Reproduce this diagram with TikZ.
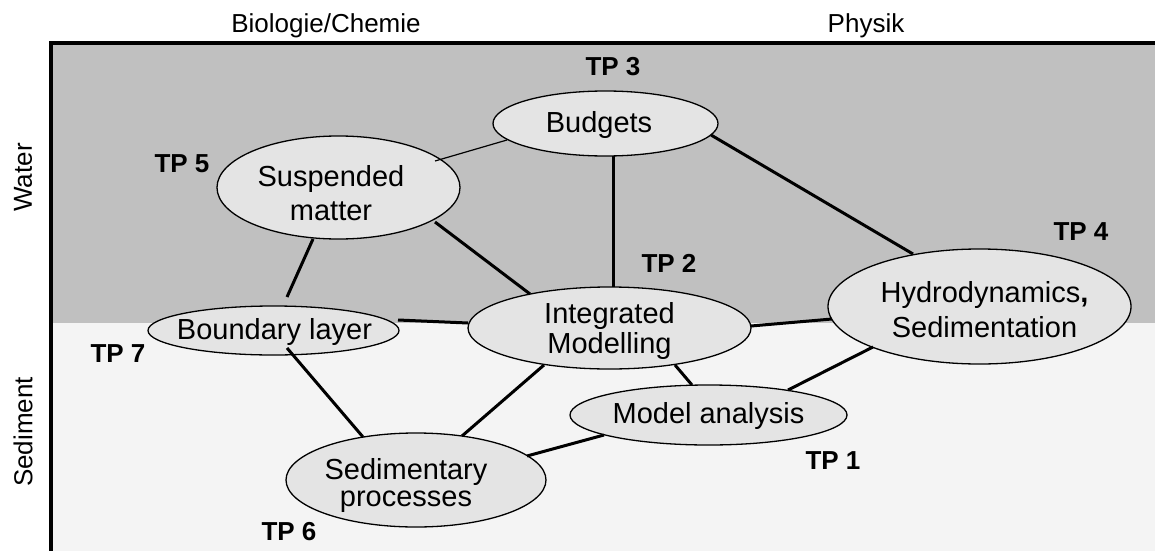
\documentclass[tikz,border=0pt]{standalone}
\usepackage{fontspec}
\setmainfont{Liberation Sans}
\usetikzlibrary{shapes.geometric,calc}
\definecolor{waterfill}{RGB}{192,192,192}
\definecolor{sedimentfill}{RGB}{244,244,244}
\definecolor{bubblefill}{RGB}{228,228,228}
\tikzset{
  bubble/.style={ellipse, draw=black, line width=1.3pt, fill=bubblefill, inner sep=0pt, outer sep=0pt},
  bubbletext/.style={align=center, inner sep=0pt, font=\fontsize{29}{31}\selectfont},
  tp/.style={font=\fontsize{26}{28}\selectfont\bfseries, inner sep=0pt},
  side/.style={font=\fontsize{26}{28}\selectfont, inner sep=0pt},
  link/.style={line width=3pt},
  thinlink/.style={line width=1.2pt},
}
\begin{document}
\begin{tikzpicture}[x=1pt,y=-1pt]
\useasboundingbox (0,0) rectangle (1155,551);
% water and sediment zones
\fill[waterfill] (53,45) rectangle (1155,323);
\fill[sedimentfill] (53,323) rectangle (1155,551);

% work packages
\node[bubble, minimum width=225pt, minimum height=65pt,
  label={[bubbletext,xshift=-6.5pt,yshift=-2pt]center:Budgets}] (bud) at (605.5,123.5) {};
\node[bubble, minimum width=243pt, minimum height=103pt,
  label={[bubbletext,font=\fontsize{29}{34}\selectfont,xshift=-7.5pt,yshift=-6pt]center:{Suspended\\matter}}] (sus) at (338.5,187.5) {};
\node[bubble, minimum width=283pt, minimum height=82pt,
  label={[bubbletext,font=\fontsize{29}{30}\selectfont,yshift=-2.5pt]center:{Integrated\\Modelling}}] (int) at (609.5,328) {};
\node[bubble, minimum width=303pt, minimum height=115pt,
  label={[bubbletext,font=\fontsize{29}{35}\selectfont,xshift=5pt,yshift=-3.5pt]center:{Hydrodynamics{\bfseries ,}\\Sedimentation}}] (hyd) at (979.5,306.5) {};
\node[bubble, minimum width=251pt, minimum height=49pt,
  label={[bubbletext,xshift=1pt,yshift=-1pt]center:Boundary layer}] (bl) at (273.5,330.5) {};
\node[bubble, minimum width=260pt, minimum height=94pt,
  label={[bubbletext,font=\fontsize{29}{27}\selectfont,xshift=-10pt,yshift=-5.5pt]center:{Sedimentary\\processes}}] (sed) at (416,480) {};
\node[bubble, minimum width=277pt, minimum height=60pt,
  label={[bubbletext,yshift=-1pt]center:Model analysis}] (mod) at (708.5,415) {};

% links between work packages
\draw[thinlink] ($(bud.center)+(-98.5,16.5)$) -- ($(sus.center)+(96.5,-26.5)$);
\draw[link] ($(bud.center)+(7.5,32.5)$) -- ($(int.center)+(3.5,-41)$);
\draw[link] ($(bud.center)+(105.5,11.5)$) -- ($(hyd.center)+(-66.5,-52.5)$);
\draw[link] ($(sus.center)+(96.5,34.5)$) -- ($(int.center)+(-79.5,-34)$);
\draw[link] ($(sus.center)+(-25.5,51.5)$) -- ($(bl.center)+(13.5,-33.5)$);
\draw[link] ($(bl.center)+(124.5,-10.5)$) -- ($(int.center)+(-141.5,-5)$);
\draw[link] ($(int.center)+(141.5,-2)$) -- ($(hyd.center)+(-147.5,12.5)$);
\draw[link] ($(bl.center)+(13.5,17.5)$) -- ($(sed.center)+(-53,-43)$);
\draw[link] ($(int.center)+(-65.5,37)$) -- ($(sed.center)+(46,-44)$);
\draw[link] ($(int.center)+(65.5,37)$) -- ($(mod.center)+(-16.5,-30)$);
\draw[link] ($(mod.center)+(79.5,-25)$) -- ($(hyd.center)+(-106.5,40.5)$);
\draw[link] ($(mod.center)+(-104.5,20)$) -- ($(sed.center)+(111,-24)$);

% work package numbers
\node[tp] (tp3) at (613,67) {TP 3};
\node[tp] (tp5) at (182,164) {TP 5};
\node[tp] (tp2) at (669,263) {TP 2};
\node[tp] (tp4) at (1081,232) {TP 4};
\node[tp] (tp7) at (118,354) {TP 7};
\node[tp] (tp1) at (833,461) {TP 1};
\node[tp] (tp6) at (289,532) {TP 6};

% axes labels
\node[side, anchor=base] (biochem) at (326,33) {Biologie/Chemie};
\node[side, anchor=base] (phys) at (866,33) {Physik};
\node[side, rotate=90] (water) at (23,177.5) {Water};
\node[side, rotate=90] (sediment) at (23,432) {Sediment};

% frame
\draw[line width=4.3pt, line join=miter] (1155,43) -- (51.3,43) -- (51.3,551);
\end{tikzpicture}
\end{document}
